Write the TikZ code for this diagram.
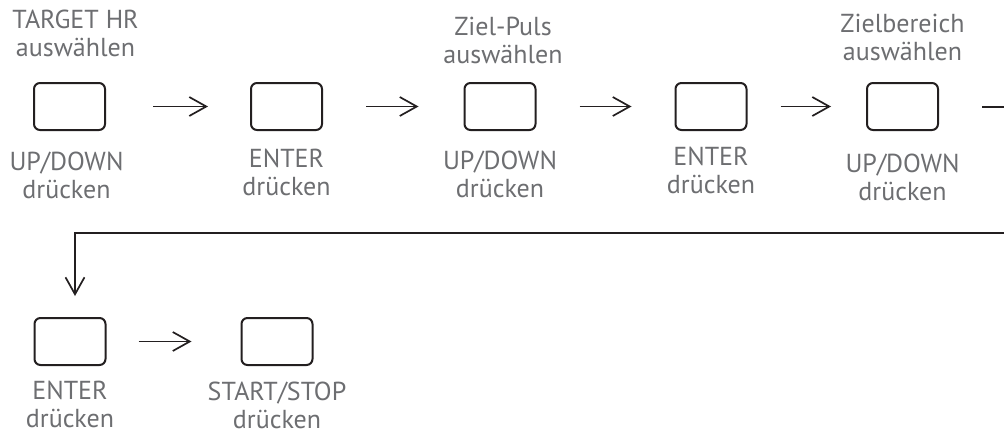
\documentclass[tikz,border=0pt]{standalone}
\usepackage{fontspec}
\setmainfont{PT Sans}
\usetikzlibrary{arrows.meta, positioning}
\definecolor{txtgray}{HTML}{6D6E71}
\definecolor{inkdark}{HTML}{231F20}

\begin{document}
\begin{tikzpicture}[x=1pt, y=1pt,
  >={Straight Barb[length=17pt, width=19pt, line width=1.7pt]},
  btn/.style={draw=inkdark, line width=2pt, rounded corners=6pt,
    minimum width=71pt, minimum height=47pt, inner sep=0pt},
  lbl/.style={text=txtgray, font=\fontsize{26}{28}\selectfont,
    align=center, inner sep=0pt},
  flow/.style={inkdark, line width=1.7pt, ->}]

\useasboundingbox (0,0) rectangle (1004,-434);

% First row of buttons
\node[btn] (upA)    at (69.5,-106.5) {};
\node[btn] (enterA) at (286.5,-106.5) {};
\node[btn] (upB)    at (500,-106.5) {};
\node[btn] (enterB) at (711,-106.5) {};
\node[btn] (upC)    at (902.5,-106.5) {};

% Second row
\node[btn] (enterC) at (70,-341.5) {};
\node[btn] (start)  at (277,-341.5) {};

% Texts above the buttons
\node[lbl, above=25pt of upA.north, xshift=6pt] (selA) {TARGET HR\\auswählen};
\node[lbl, above=18pt of upB.north, xshift=3pt] (selB) {Ziel-Puls\\auswählen};
\node[lbl, above=21pt of upC.north] (selC) {Zielbereich\\auswählen};

% Texts below the buttons
\node[lbl, below=21pt of upA.south, xshift=-3pt] (pressA) {UP/DOWN\\drücken};
\node[lbl, below=18pt of enterA.south] (pressB) {ENTER\\drücken};
\node[lbl, below=20pt of upB.south] (pressC) {UP/DOWN\\drücken};
\node[lbl, below=16pt of enterB.south] (pressD) {ENTER\\drücken};
\node[lbl, below=23pt of upC.south] (pressE) {UP/DOWN\\drücken};
\node[lbl, below=15pt of enterC.south] (pressF) {ENTER\\drücken};
\node[lbl, below=16pt of start.south] (pressG) {START/STOP\\drücken};

% Arrows between the buttons
\draw[flow, shorten <=47pt, shorten >=42pt] (upA.east) -- (enterA.west);
\draw[flow, shorten <=43pt, shorten >=45pt] (enterA.east) -- (upB.west);
\draw[flow, shorten <=43pt, shorten >=43pt] (upB.east) -- (enterB.west);
\draw[flow, shorten <=33pt, shorten >=35pt] (enterB.east) -- (upC.west);
\draw[flow, shorten <=32pt, shorten >=49pt] (enterC.east) -- (start.west);

% Return line to the second row
\coordinate (turn) at (75,-233);
\draw[flow, line width=2pt, shorten <=43pt, shorten >=21pt]
  (upC.east) -- ++(80,0) |- (turn) -- (turn |- enterC.north);

\end{tikzpicture}
\end{document}
